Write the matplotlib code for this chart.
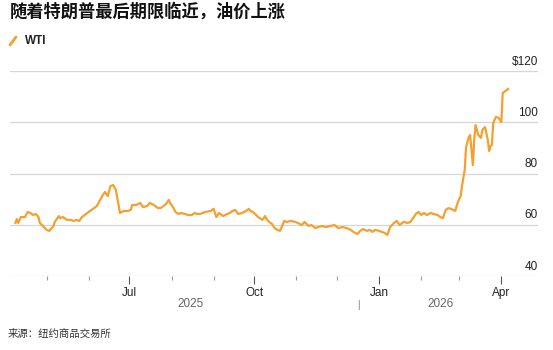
import numpy as np
import pandas as pd
import matplotlib
matplotlib.use('Agg')
import matplotlib.pyplot as plt
import matplotlib.dates as mdates
import matplotlib.transforms as mtransforms

title = '随着特朗普最后期限临近，油价上涨'
series_name = 'WTI'
source = '来源：纽约商品交易所'

# days counted from 2025-04-01
start = pd.Timestamp('2025-04-01')
days = [7, 8, 9, 11, 14, 16, 18, 20, 22, 24, 25, 28, 30, 32, 33, 35, 36, 39, 40, 42,
        45, 47, 50, 52, 54, 56, 59, 62, 65, 67, 69, 71, 73, 75, 77, 79, 81, 83, 84, 87,
        90, 92, 93, 96, 99, 101, 104, 106, 109, 112, 114, 115, 118, 120, 121, 123, 125, 127, 129, 132,
        134, 137, 139, 141, 143, 147, 151, 153, 155, 157, 160, 163, 165, 167, 169, 171, 174, 177, 179, 180,
        182, 185, 187, 189, 191, 192, 194, 196, 198, 200, 202, 205, 207, 210, 213, 215, 218, 220, 223, 225,
        228, 230, 233, 236, 239, 242, 245, 248, 251, 254, 256, 259, 261, 263, 266, 268, 270, 272, 275, 277,
        279, 281, 283, 286, 288, 290, 293, 296, 298, 300, 302, 304, 306, 308, 310, 313, 315, 318, 320, 322,
        324, 326, 328, 331, 333, 335, 336, 338, 339, 341, 342, 344, 345, 346, 348, 350, 351, 353, 355, 356,
        357, 358, 359, 361, 363, 365, 366, 368, 370]
wti = [60.7, 62.2, 60.7, 63.0, 63.0, 65.0, 64.6, 63.8, 64.2, 63.0, 60.7, 59.1, 58.0, 57.6, 58.3, 59.5, 61.1, 63.4, 62.6, 63.0,
       61.9, 61.9, 61.5, 61.9, 61.5, 63.0, 64.2, 65.4, 66.5, 67.3, 69.3, 71.2, 72.8, 71.2, 75.1, 75.5, 73.6, 67.7, 64.6, 65.4,
       65.4, 65.8, 67.7, 67.7, 68.5, 66.9, 67.3, 68.5, 67.7, 66.5, 66.5, 66.9, 68.1, 69.7, 68.5, 66.9, 65.0, 64.2, 64.6, 64.2,
       63.8, 63.8, 64.6, 64.2, 64.2, 65.0, 65.4, 66.2, 63.0, 64.6, 63.4, 64.2, 64.6, 65.4, 65.8, 64.2, 64.6, 65.4, 66.2, 65.4,
       65.0, 63.4, 62.6, 61.9, 63.4, 62.2, 61.1, 60.3, 58.7, 58.0, 57.6, 61.5, 61.1, 61.5, 61.1, 60.7, 59.9, 61.1, 59.5, 59.9,
       58.7, 59.1, 59.5, 59.1, 59.5, 59.9, 58.7, 59.1, 58.7, 58.0, 57.2, 56.4, 57.6, 58.3, 57.6, 58.0, 57.2, 58.0, 57.6, 57.2,
       56.8, 56.0, 59.1, 60.7, 61.5, 59.9, 61.1, 60.7, 61.1, 62.6, 64.2, 65.0, 63.8, 64.6, 63.8, 64.6, 64.2, 63.8, 63.0, 62.6,
       65.8, 66.5, 66.2, 65.4, 68.9, 71.2, 75.1, 81.4, 90.3, 94.2, 95.0, 83.3, 93.1, 98.9, 95.0, 93.9, 97.0, 98.1, 93.1, 88.8,
       90.7, 91.1, 99.7, 102.1, 101.7, 100.1, 111.4, 112.2, 113.0]

y_ticks = [40, 60, 80, 100, 120]
y_labels = ['40', '60', '80', '100', '$120']
month_ticks = ['2025-07-01', '2025-10-01', '2026-01-01', '2026-04-01']
month_labels = ['Jul', 'Oct', 'Jan', 'Apr']
years = ['2025', '2026']

dates = start + pd.to_timedelta(days, unit='D')

plt.rcParams['font.family'] = ['Liberation Sans', 'Noto Sans CJK SC', 'DejaVu Sans']
cjk = ['Noto Sans CJK SC', 'DejaVu Sans']

fig = plt.figure(figsize=(5.53, 3.5), dpi=100)
ax = fig.add_axes([10 / 553, 74 / 350, 528 / 553, 205 / 350])

ax.plot(dates, wti, color='#f5a02e', lw=1.6, solid_joinstyle='round', zorder=3)

ax.set_xlim(pd.Timestamp('2025-04-04'), pd.Timestamp('2026-04-28'))
ax.set_ylim(40, 120)

for s in ['top', 'right', 'left', 'bottom']:
    ax.spines[s].set_visible(False)
ax.set_yticks(y_ticks)
ax.yaxis.grid(True, color='#d6d6d6', lw=0.9)
ax.tick_params(axis='y', length=0, labelleft=False)
ax.set_axisbelow(True)

trans = mtransforms.blended_transform_factory(ax.transAxes, ax.transData)
off = mtransforms.offset_copy(trans, fig=fig, x=0, y=2.5, units='points')
for v, lab in zip(y_ticks, y_labels):
    ax.text(1.0, v, lab, transform=off, ha='right', va='bottom',
            fontsize=8.5, color='#222222')

ax.xaxis.set_major_locator(mdates.MonthLocator(bymonth=[1, 4, 7, 10]))
ax.xaxis.set_minor_locator(mdates.MonthLocator())
ax.set_xticks(pd.to_datetime(month_ticks))
ax.set_xticklabels(month_labels)
ax.tick_params(axis='x', which='major', length=6, width=0.8, color='#555555',
               labelsize=8.5, labelcolor='#222222', pad=2)
ax.tick_params(axis='x', which='minor', length=3, width=0.8, color='#999999')

# year row under month labels
xt = ax.get_xaxis_transform()
ax.text(pd.Timestamp('2025-08-15'), -0.135, years[0], transform=xt,
        ha='center', va='center', fontsize=8.5, color='#666666')
ax.text(pd.Timestamp('2026-02-15'), -0.135, years[1], transform=xt,
        ha='center', va='center', fontsize=8.5, color='#666666')
ax.text(pd.Timestamp('2025-12-17'), -0.14, '|', transform=xt,
        ha='center', va='center', fontsize=7, color='#777777')

fig.text(10 / 553, 1 - 12 / 350, title, family=cjk, fontweight='bold',
         fontsize=12.4, color='#111111', ha='left', va='center')
fig.add_artist(plt.Line2D([10 / 553, 16 / 553], [1 - 45 / 350, 1 - 37 / 350],
                          color='#f5a02e', lw=2, solid_capstyle='round'))
fig.text(25 / 553, 1 - 41 / 350, series_name, fontweight='bold', fontsize=8.5,
         color='#222222', ha='left', va='center')
fig.text(8 / 553, 1 - 334 / 350, source, family=cjk, fontsize=7.5,
         color='#333333', ha='left', va='center')

fig.savefig('out.png', dpi=100)
